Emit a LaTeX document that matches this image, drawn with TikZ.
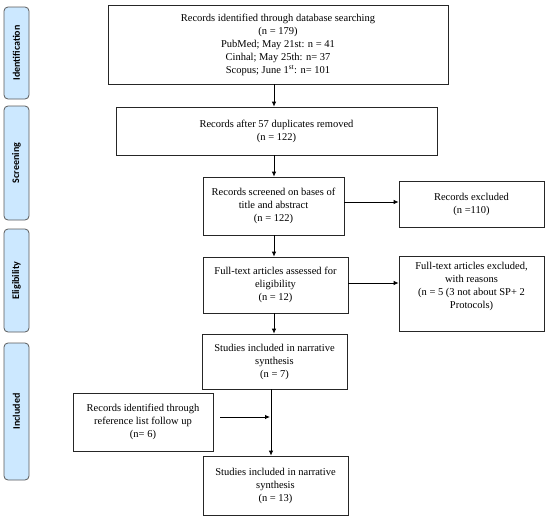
\documentclass[tikz,border=0pt]{standalone}
\usepackage{fontspec}
\setmainfont{Liberation Serif}
\newfontfamily\phasefont{Carlito}
\usetikzlibrary{arrows.meta}
\definecolor{phasefill}{RGB}{204,232,255}
\definecolor{phaseline}{RGB}{90,90,90}
\tikzset{
  box/.style={draw=black!85, line width=0.7pt, align=center, inner sep=2pt,
    font=\fontsize{10.5}{13}\selectfont},
  phase/.style={draw=phaseline, fill=phasefill, rounded corners=4pt, line width=0.8pt,
    minimum width=25pt, inner sep=0pt},
  phasetext/.style={rotate=90, font=\phasefont\bfseries\fontsize{10}{12}\selectfont},
  arr/.style={-{Latex[length=5pt,width=4.5pt]}, line width=0.8pt, black}
}
\begin{document}
\begin{tikzpicture}[x=1pt,y=-1pt]
\useasboundingbox (0,0) rectangle (550,520);
% phase labels
\node[phase, minimum height=92pt] (pid) at (16.5,53) {};
\node[phasetext] at (pid.center) {Identification};
\node[phase, minimum height=114pt] (pscr) at (16.5,163) {};
\node[phasetext] at (pscr.center) {Screening};
\node[phase, minimum height=103pt] (pel) at (16.5,280.5) {};
\node[phasetext] at (pel.center) {Eligibility};
\node[phase, minimum height=137pt] (pinc) at (16.5,411.5) {};
\node[phasetext] at (pinc.center) {Included};
% boxes
\node[box, minimum width=340pt, minimum height=79pt] (b1) at (278,44.5)
  {Records identified through database searching\\(n = 179)\\PubMed; May 21st: n = 41\\Cinhal; May 25th: n= 37\\Scopus; June 1\textsuperscript{st}: n= 101};
\node[box, minimum width=321pt, minimum height=48pt] (b2) at (276.5,131)
  {Records after 57 duplicates removed\\(n = 122)};
\node[box, minimum width=141pt, minimum height=58pt] (b3) at (273.5,206)
  {Records screened on bases of\\title and abstract\\(n = 122)};
\node[box, minimum width=145pt, minimum height=46pt] (e1) at (471.5,204)
  {Records excluded\\(n =110)};
\node[box, minimum width=145pt, minimum height=56pt] (b4) at (275.5,285)
  {Full-text articles assessed for\\eligibility\\(n = 12)};
\node[box, minimum width=145pt, minimum height=75pt] (e2) at (471.5,293.5)
  {Full-text articles excluded,\\with reasons\\(n = 5 (3 not about SP+ 2\\Protocols)\\[4pt]};
\node[box, minimum width=145pt, minimum height=55pt] (b5) at (274.5,361.5)
  {Studies included in narrative\\synthesis\\(n = 7)};
\node[box, minimum width=140pt, minimum height=58pt] (r) at (143,422)
  {Records identified through\\reference list follow up\\(n= 6)};
\node[box, minimum width=145pt, minimum height=59pt] (b6) at (275.5,485.5)
  {Studies included in narrative\\synthesis\\(n = 13)};
% arrows
\draw[arr] (b1.south -| 274,0) -- (b2.north -| 274,0);
\draw[arr] (b2.south -| 274,0) -- (b3.north -| 274,0);
\draw[arr] (b3.south -| 274,0) -- (b4.north -| 274,0);
\draw[arr] (b4.south -| 274,0) -- (b5.north -| 274,0);
\draw[arr] (b5.south -| 271,0) -- (b6.north -| 271,0);
\draw[arr] (b3.east |- 0,202) -- (e1.west |- 0,202);
\draw[arr] (b4.east |- 0,283) -- (e2.west |- 0,283);
\coordinate (rs) at (220,417);
\coordinate (re) at (270,417);
\draw[arr] (rs) -- (re);
\end{tikzpicture}
\end{document}
